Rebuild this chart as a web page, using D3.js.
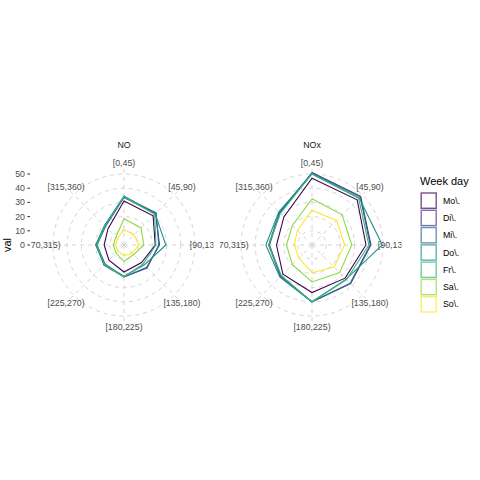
<!DOCTYPE html>
<html>
<head>
<meta charset="utf-8">
<script src="https://cdn.jsdelivr.net/npm/d3@7"></script>
<style>
  html, body { margin: 0; padding: 0; background: #ffffff; }
  svg { display: block; font-family: "Liberation Sans", Arial, sans-serif; }
</style>
</head>
<body>
<svg id="chart" width="480" height="480"></svg>
<script>
// ---- data ----
const directions = ["[0,45)", "[45,90)", "[90,135)", "[135,180)", "[180,225)", "[225,270)", "[270,315)", "[315,360)"];
const weekdays = ["Mo\\.", "Di\\.", "Mi\\.", "Do\\.", "Fr\\.", "Sa\\.", "So\\."];
const pollutants = ["NO", "NOx"];
const yTicks = [0, 10, 20, 30, 40, 50];
const colors = ["#440154", "#443A83", "#31688E", "#21908C", "#35B779", "#8FD744", "#FDE725"];

// NO values per weekday (order of directions)
const noMo = [31, 29, 22, 17.5, 19, 15, 14, 16];
const noDi = [33.5, 31.5, 25, 22.5, 22.5, 19, 19, 18.5];
const noMi = [34, 32, 24.5, 23, 22.5, 20, 19.5, 19];
const noDo = [34.5, 31, 29.5, 20, 22, 19.5, 20, 19.5];
const noFr = [34, 30.5, 22.5, 19, 22.5, 19.5, 19, 19];
const noSa = [18.5, 17, 14, 9.5, 11.5, 8, 7.5, 8];
const noSo = [11, 10, 10.5, 8, 7.5, 6, 6, 6.5];

// NOx values per weekday
const noxMo = [47, 45, 38, 33, 33.5, 29, 25, 28];
const noxDi = [51, 48.5, 41.5, 38.5, 40, 31, 30, 32];
const noxMi = [50.5, 48, 41, 38, 40, 31.5, 30.5, 32.5];
const noxDo = [50, 47, 49.5, 34, 40, 32, 32.5, 33];
const noxFr = [50, 46.5, 40, 34.5, 40, 30.5, 30.5, 31.5];
const noxSa = [32.5, 30, 28, 27.5, 26, 19.5, 18, 19.5];
const noxSo = [24.5, 24.5, 23, 22, 19.5, 13, 12.5, 14.5];

const seriesByPanel = {
  "NO":  [noMo, noDi, noMi, noDo, noFr, noSa, noSo],
  "NOx": [noxMo, noxDi, noxMi, noxDo, noxFr, noxSa, noxSo]
};

// ---- layout ----
const svg = d3.select("#chart");
const panelSize = 184;
const panelTop = 153;
const panelLefts = [32, 220];
const clipBoxes = [[31, 213.5], [220, 401.5]];
const outerR = 71;
const labelR = 82;

const r = d3.scaleLinear().domain([0, 50]).range([0, outerR]);
const theta = d3.scalePoint().domain(directions).range([0, 2 * Math.PI * (directions.length - 1) / directions.length]);
const color = d3.scaleOrdinal().domain(weekdays).range(colors);

const defs = svg.append("defs");

pollutants.forEach((p, pi) => {
  const x0 = panelLefts[pi];
  const cx = x0 + panelSize / 2;
  const cy = panelTop + panelSize / 2;

  defs.append("clipPath").attr("id", "clip" + pi)
    .append("rect").attr("x", clipBoxes[pi][0]).attr("y", panelTop)
    .attr("width", clipBoxes[pi][1] - clipBoxes[pi][0]).attr("height", panelSize);

  // strip title
  svg.append("text")
    .attr("x", cx).attr("y", panelTop - 5)
    .attr("text-anchor", "middle")
    .attr("font-size", 8.8).attr("fill", "#1a1a1a")
    .text(p);

  const g = svg.append("g").attr("clip-path", `url(#clip${pi})`)
    .append("g").attr("transform", `translate(${cx},${cy})`);

  // circles
  g.selectAll("circle.grid").data(yTicks.filter(t => t > 0)).join("circle")
    .attr("class", "grid")
    .attr("r", d => r(d))
    .attr("fill", "none").attr("stroke", "#cfcfcf")
    .attr("stroke-width", 0.9).attr("stroke-dasharray", "4,4");

  // spokes
  g.selectAll("line.spoke").data(directions).join("line")
    .attr("class", "spoke")
    .attr("x1", 0).attr("y1", 0)
    .attr("x2", d => (labelR - 4) * Math.sin(theta(d)))
    .attr("y2", d => -(labelR - 4) * Math.cos(theta(d)))
    .attr("stroke", "#cfcfcf").attr("stroke-width", 0.9).attr("stroke-dasharray", "4,4");

  // direction labels
  g.selectAll("text.dir").data(directions).join("text")
    .attr("class", "dir")
    .attr("x", d => labelR * Math.sin(theta(d)))
    .attr("y", d => -labelR * Math.cos(theta(d)))
    .attr("dy", "0.35em")
    .attr("text-anchor", "middle")
    .attr("font-size", 8.8).attr("fill", "#4d4d4d")
    .text(d => d);

  // series polygons
  const line = d3.lineRadial()
    .angle((d, i) => theta(directions[i]))
    .radius(d => r(d))
    .curve(d3.curveLinearClosed);

  g.selectAll("path.series").data(seriesByPanel[p]).join("path")
    .attr("class", "series")
    .attr("d", d => line(d))
    .attr("fill", "none")
    .attr("stroke", (d, i) => color(weekdays[i]))
    .attr("stroke-width", 1.1);
});

// y axis (left of first panel)
const cyAxis = panelTop + panelSize / 2;
const yAxis = svg.append("g");
yTicks.forEach(t => {
  const y = cyAxis - r(t);
  yAxis.append("line").attr("x1", 27.3).attr("x2", 30).attr("y1", y).attr("y2", y)
    .attr("stroke", "#333333").attr("stroke-width", 1);
  yAxis.append("text").attr("x", 25).attr("y", y).attr("dy", "0.35em")
    .attr("text-anchor", "end").attr("font-size", 8.8).attr("fill", "#4d4d4d").text(t);
});
svg.append("text")
  .attr("transform", `translate(10.5,${cyAxis}) rotate(-90)`)
  .attr("text-anchor", "middle").attr("font-size", 11).attr("fill", "#000")
  .text("val");

// legend
const lg = svg.append("g").attr("transform", "translate(420,0)");
lg.append("text").attr("x", 0).attr("y", 185).attr("font-size", 11).attr("fill", "#000").text("Week day");
weekdays.forEach((w, i) => {
  const y = 192 + i * 17.28;
  lg.append("rect").attr("x", 1.2).attr("y", y + 1).attr("width", 15).attr("height", 15.3)
    .attr("fill", "#ffffff").attr("stroke", color(w)).attr("stroke-opacity", 0.7).attr("stroke-width", 1.4);
  lg.append("text").attr("x", 23).attr("y", y + 8.6).attr("dy", "0.35em")
    .attr("font-size", 8.8).attr("fill", "#000").text(w);
});
</script>
</body>
</html>
